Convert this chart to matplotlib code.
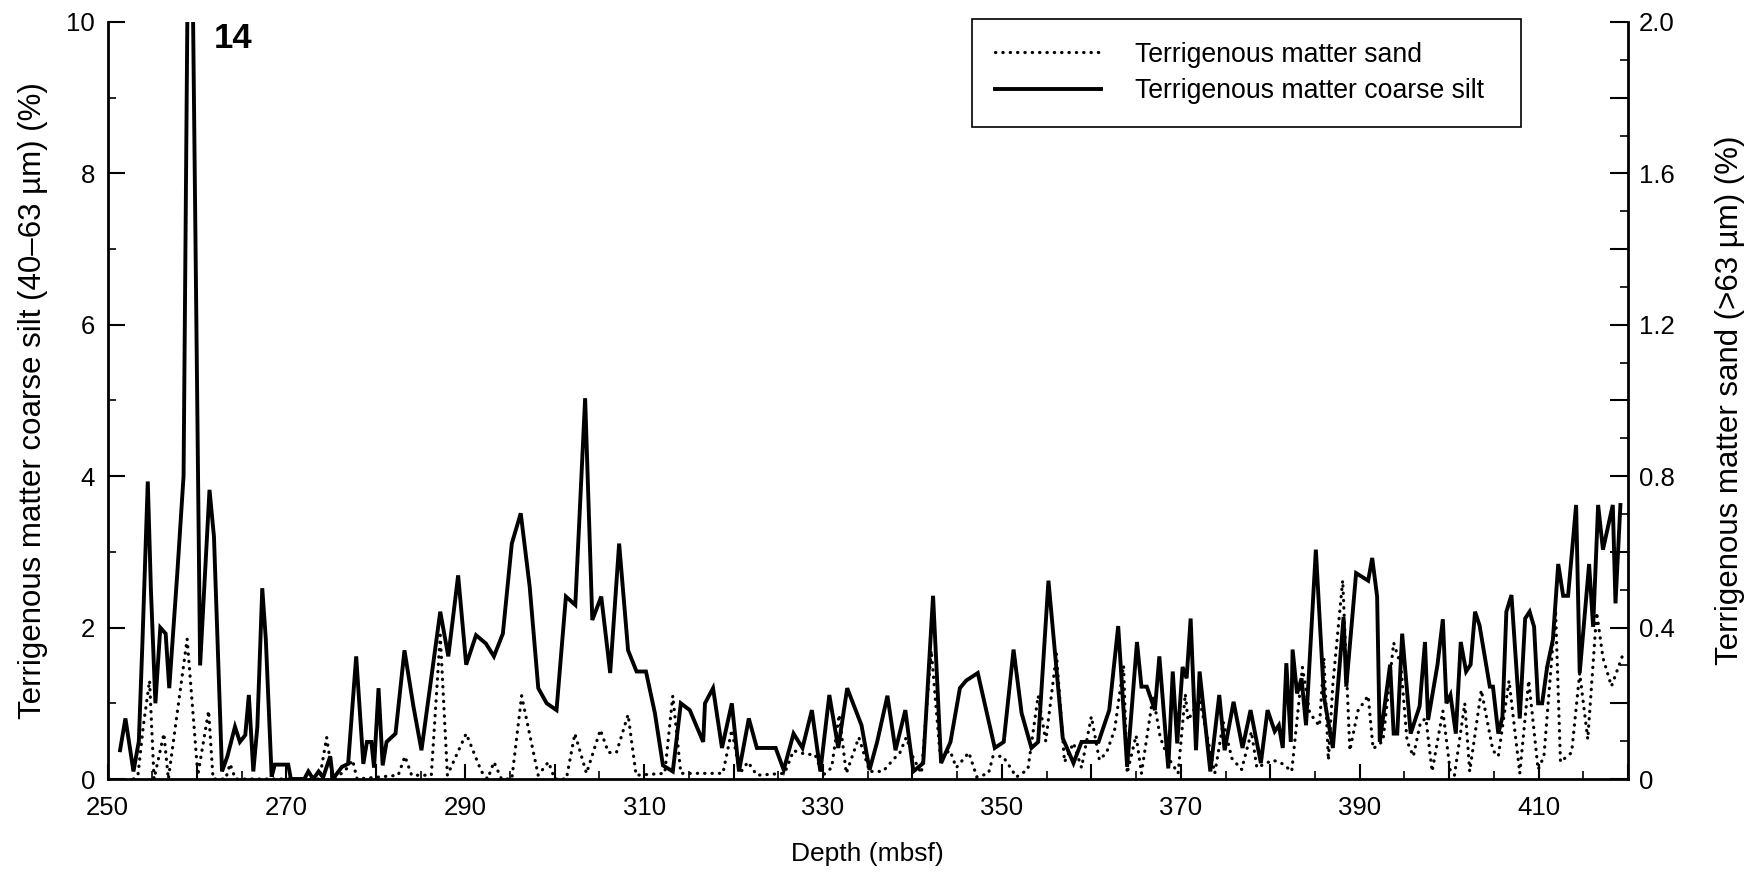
import matplotlib
matplotlib.use('Agg')
import matplotlib.pyplot as plt
from matplotlib.ticker import MultipleLocator, FuncFormatter

plt.rcParams['font.family'] = ['Liberation Sans', 'DejaVu Sans']

# ---------------- data ----------------
silt_depth = [251.4, 252.0, 252.9, 253.5, 253.9, 254.5, 254.85, 255.35, 255.9, 256.5,
              256.9, 257.8, 258.5, 259.2, 260.35, 261.4, 261.9, 262.8, 263.4, 264.25,
              264.8, 265.4, 265.8, 266.3, 266.75, 267.3, 267.7, 268.35, 268.7, 270.2,
              270.5, 272.0, 272.45, 273.0, 273.6, 274.1, 274.9, 275.2, 276.2, 276.9,
              277.8, 278.6, 279.0, 279.5, 279.8, 280.3, 280.76, 281.2, 282.2, 283.2,
              284.2, 285.1, 287.2, 288.1, 289.2, 290.1, 291.2, 292.3, 293.2, 294.2,
              295.2, 296.2, 297.2, 298.16, 299.1, 300.2, 301.25, 302.3, 303.4, 304.2,
              305.2, 306.2, 307.2, 308.2, 309.15, 310.2, 311.2, 312.1, 313.2, 314.1,
              315.1, 316.6, 316.8, 317.7, 318.7, 319.8, 320.6, 321.7, 322.6, 324.7,
              325.6, 326.7, 327.7, 328.75, 329.7, 330.7, 331.7, 332.7, 334.3, 335.2,
              336.05, 337.2, 338.1, 339.2, 340.1, 341.2, 342.3, 343.2, 344.25, 345.3,
              346.0, 347.3, 349.2, 350.2, 351.3, 352.2, 353.3, 354.05, 355.2, 356.8,
              358.0, 358.9, 360.8, 362.0, 363.0, 364.0, 365.1, 365.6, 366.2, 367.1,
              367.6, 368.6, 369.1, 369.6, 370.2, 370.65, 371.1, 371.7, 372.1, 373.3,
              374.3, 374.9, 375.9, 376.9, 377.8, 378.95, 379.7, 380.5, 380.96, 381.4,
              381.8, 382.3, 382.5, 383.0, 383.5, 384.0, 385.1, 386.0, 387.0, 388.2,
              388.5, 389.6, 390.95, 391.4, 391.95, 392.25, 393.4, 393.8, 394.2, 394.75,
              395.7, 396.7, 397.3, 397.65, 398.7, 399.3, 399.7, 400.15, 400.75, 401.3,
              401.9, 402.4, 402.9, 403.4, 404.55, 404.9, 405.5, 405.96, 406.4, 406.97,
              407.9, 408.5, 409.0, 409.5, 409.95, 410.4, 410.96, 411.6, 412.2, 412.75,
              413.3, 414.2, 414.6, 415.65, 416.1, 416.66, 417.2, 418.3, 418.6, 419.15]
silt_pct = [0.38, 0.80, 0.10, 0.50, 1.80, 3.93, 2.50, 1.00, 2.00, 1.92,
            1.20, 2.72, 4.00, 14.0, 1.50, 3.82, 3.20, 0.10, 0.30, 0.69,
            0.49, 0.58, 1.11, 0.10, 0.69, 2.52, 1.84, 0.03, 0.19, 0.19,
            0.00, 0.00, 0.10, 0.00, 0.10, 0.02, 0.30, 0.00, 0.16, 0.20,
            1.62, 0.20, 0.49, 0.49, 0.15, 1.20, 0.18, 0.49, 0.60, 1.70,
            0.96, 0.38, 2.21, 1.62, 2.69, 1.51, 1.90, 1.79, 1.62, 1.92,
            3.11, 3.51, 2.54, 1.20, 1.00, 0.91, 2.41, 2.30, 5.03, 2.10,
            2.41, 1.40, 3.11, 1.70, 1.42, 1.42, 0.87, 0.18, 0.10, 1.00,
            0.91, 0.49, 1.00, 1.20, 0.41, 1.00, 0.10, 0.80, 0.41, 0.41,
            0.12, 0.60, 0.41, 0.91, 0.10, 1.11, 0.41, 1.20, 0.71, 0.12,
            0.49, 1.10, 0.38, 0.91, 0.10, 0.21, 2.42, 0.21, 0.49, 1.20,
            1.30, 1.40, 0.41, 0.49, 1.71, 0.87, 0.41, 0.49, 2.62, 0.54,
            0.21, 0.49, 0.49, 0.91, 2.02, 0.16, 1.81, 1.22, 1.22, 0.91,
            1.62, 0.14, 1.42, 0.47, 1.48, 1.33, 2.12, 0.38, 1.42, 0.10,
            1.11, 0.38, 1.02, 0.41, 0.91, 0.21, 0.91, 0.63, 0.71, 0.41,
            1.53, 0.49, 1.71, 1.13, 1.33, 0.71, 3.03, 1.09, 0.41, 2.14,
            1.22, 2.72, 2.62, 2.92, 2.41, 0.49, 1.51, 0.60, 0.60, 1.92,
            0.60, 0.96, 1.81, 0.78, 1.51, 2.11, 1.00, 1.11, 0.60, 1.81,
            1.42, 1.51, 2.21, 2.03, 1.22, 1.22, 0.60, 0.82, 2.21, 2.43,
            0.80, 2.12, 2.21, 2.01, 1.00, 1.00, 1.48, 1.84, 2.84, 2.42,
            2.42, 3.62, 1.40, 2.84, 2.01, 3.62, 3.03, 3.62, 2.32, 3.62]

sand_depth = [252.9, 253.4, 254.0, 254.7, 255.2, 256.3, 256.8, 258.9, 260.1, 261.3,
              261.8, 263.2, 263.7, 264.3, 273.7, 274.5, 275.2, 276.5, 277.4, 277.9,
              282.5, 283.25, 284.0, 286.2, 287.2, 288.0, 290.1, 291.8, 292.5, 293.2,
              294.05, 295.2, 296.3, 298.15, 299.3, 300.0, 301.3, 302.25, 303.55, 305.1,
              306.0, 306.9, 308.2, 309.1, 312.3, 313.2, 314.1, 318.8, 319.8, 320.7,
              321.6, 322.6, 325.7, 326.7, 328.1, 329.1, 330.0, 330.96, 331.8, 332.6,
              334.0, 335.2, 336.7, 337.8, 338.6, 339.3, 340.1, 341.0, 342.1, 343.1,
              344.2, 344.9, 346.3, 347.2, 348.5, 349.0, 350.1, 351.1, 351.6, 352.9,
              354.05, 354.9, 356.1, 357.0, 358.0, 358.9, 360.0, 360.9, 361.7, 362.6,
              363.6, 364.0, 365.0, 365.6, 366.9, 367.7, 368.5, 369.7, 370.5, 370.8,
              372.1, 373.8, 374.75, 375.7, 376.8, 377.9, 378.5, 380.3, 381.4, 382.4,
              383.6, 384.4, 385.5, 386.0, 386.5, 387.0, 388.1, 388.9, 389.8, 390.95,
              391.5, 392.6, 393.8, 394.6, 395.3, 396.0, 396.8, 397.4, 398.1, 399.3,
              400.1, 400.6, 401.75, 402.3, 403.6, 404.9, 405.5, 406.7, 407.9, 408.9,
              409.95, 410.6, 411.9, 412.45, 413.7, 414.6, 415.5, 416.5, 417.2, 418.15,
              419.45]
sand_pct = [0.0, 0.01, 0.14, 0.26, 0.0, 0.12, 0.0, 0.37, 0.01, 0.18,
            0.0, 0.0, 0.04, 0.0, 0.0, 0.11, 0.0, 0.02, 0.05, 0.0,
            0.01, 0.06, 0.01, 0.01, 0.38, 0.01, 0.12, 0.02, 0.0, 0.045,
            0.0, 0.0, 0.22, 0.01, 0.045, 0.0, 0.0, 0.12, 0.015, 0.13,
            0.07, 0.07, 0.17, 0.01, 0.015, 0.22, 0.015, 0.015, 0.13, 0.015,
            0.045, 0.01, 0.015, 0.075, 0.065, 0.065, 0.01, 0.03, 0.17, 0.015,
            0.11, 0.02, 0.02, 0.05, 0.07, 0.11, 0.055, 0.015, 0.34, 0.06,
            0.075, 0.03, 0.07, 0.005, 0.015, 0.06, 0.06, 0.025, 0.005, 0.025,
            0.22, 0.10, 0.33, 0.045, 0.095, 0.03, 0.165, 0.05, 0.07, 0.13,
            0.30, 0.015, 0.115, 0.015, 0.22, 0.11, 0.06, 0.015, 0.225, 0.155,
            0.21, 0.015, 0.15, 0.055, 0.025, 0.125, 0.03, 0.05, 0.04, 0.02,
            0.295, 0.175, 0.14, 0.32, 0.05, 0.25, 0.525, 0.075, 0.18, 0.22,
            0.08, 0.10, 0.36, 0.30, 0.10, 0.06, 0.15, 0.16, 0.02, 0.18,
            0.025, 0.01, 0.20, 0.02, 0.235, 0.075, 0.06, 0.26, 0.015, 0.26,
            0.025, 0.06, 0.445, 0.045, 0.07, 0.28, 0.105, 0.44, 0.32, 0.245,
            0.33]

left_ticks = [0, 2, 4, 6, 8, 10]
right_ticks = [0, 0.4, 0.8, 1.2, 1.6, 2.0]
right_ticklabels = ['0', '0.4', '0.8', '1.2', '1.6', '2.0']
x_ticks = [250, 270, 290, 310, 330, 350, 370, 390, 410]

# ---------------- figure ----------------
fig = plt.figure(figsize=(17.6, 8.75), dpi=100)
ax = fig.add_axes([0.0611, 0.1097, 0.8639, 0.8652])
ax2 = ax.twinx()

line_silt, = ax.plot(silt_depth, silt_pct, color='black', lw=2.8,
                     solid_joinstyle='miter', label='Terrigenous matter coarse silt')
line_sand, = ax2.plot(sand_depth, sand_pct, color='black', lw=2.3,
                      linestyle=(0, (0.1, 2.2)), dash_capstyle='round',
                      label='Terrigenous matter sand')

ax.set_xlim(250, 420)
ax.set_ylim(0, 10)
ax2.set_ylim(0, 2.0)

for a in (ax, ax2):
    a.spines['top'].set_visible(False)
    for s in a.spines.values():
        s.set_linewidth(2.0)
ax.spines['right'].set_visible(False)
ax2.spines['left'].set_visible(False)
ax2.spines['bottom'].set_visible(False)

# x ticks
ax.xaxis.set_major_locator(MultipleLocator(10))
ax.xaxis.set_minor_locator(MultipleLocator(5))
ax.xaxis.set_major_formatter(FuncFormatter(
    lambda v, p: f'{int(round(v))}' if int(round(v)) in x_ticks else ''))
# left y ticks
ax.set_yticks(left_ticks)
ax.set_yticklabels([str(t) for t in left_ticks])
ax.yaxis.set_minor_locator(MultipleLocator(1))
# right y ticks
ax2.yaxis.set_major_locator(MultipleLocator(0.2))
ax2.yaxis.set_minor_locator(MultipleLocator(0.1))
lab_map = {round(t, 1): l for t, l in zip(right_ticks, right_ticklabels)}
ax2.yaxis.set_major_formatter(FuncFormatter(
    lambda v, p: lab_map.get(round(v, 1), '')))

ax.tick_params(axis='x', which='major', direction='in', length=11, width=1.5,
               labelsize=18.5, pad=12, top=False)
ax.tick_params(axis='x', which='minor', direction='in', length=6, width=1.2, top=False)
ax.tick_params(axis='y', which='major', direction='in', length=12, width=1.5,
               labelsize=18.5, pad=9, right=False)
ax.tick_params(axis='y', which='minor', direction='in', length=6, width=1.2, right=False)
ax2.tick_params(axis='y', which='major', direction='in', length=13, width=1.5,
                labelsize=18.5, pad=8)
ax2.tick_params(axis='y', which='minor', direction='in', length=6, width=1.2)

ax.set_xlabel('Depth (mbsf)', fontsize=19, labelpad=16)
ax.set_ylabel('Terrigenous matter coarse silt (40–63 µm) (%)', fontsize=22.5, labelpad=13)
ax2.set_ylabel('Terrigenous matter sand (>63 µm) (%)', fontsize=22.5, labelpad=29)

ax.text(264.0, 9.78, '14', fontsize=25, fontweight='bold', ha='center', va='center')

leg = ax2.legend(handles=[line_sand, line_silt], loc='upper left',
                 bbox_to_anchor=(0.5686, 1.004, 0.361, 0.0), mode='expand',
                 fontsize=19.2, frameon=True,
                 fancybox=False, edgecolor='black', framealpha=1,
                 handlelength=4.0, handletextpad=1.25, borderpad=0.85,
                 labelspacing=0.4, borderaxespad=0)
leg.get_frame().set_linewidth(1.2)

fig.savefig('out.png', dpi=100)
